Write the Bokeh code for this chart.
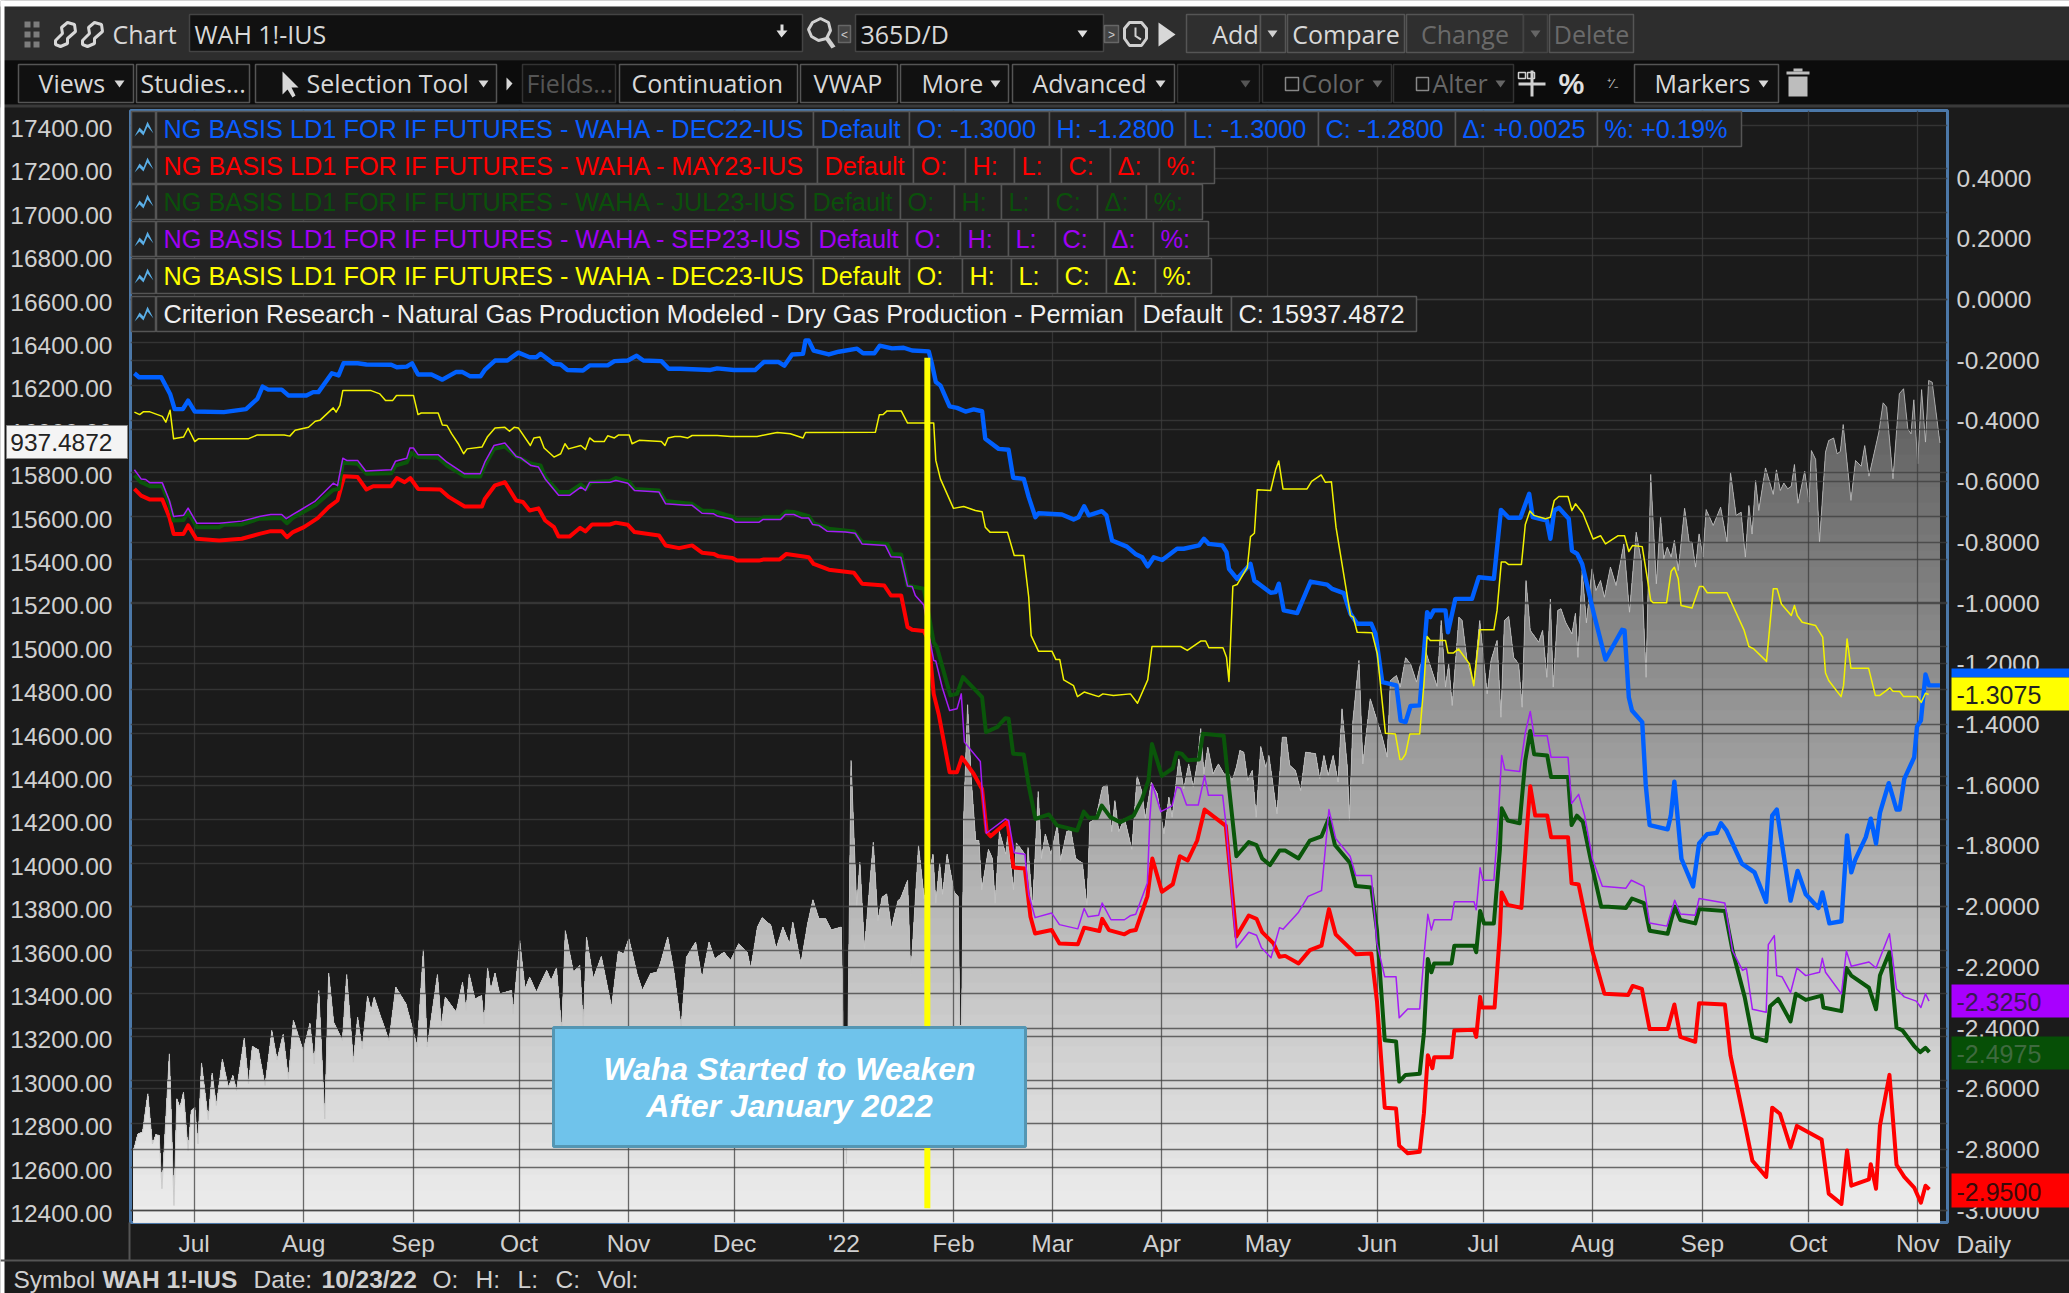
from bokeh.plotting import figure
from bokeh.models import (Range1d, LinearAxis, FixedTicker, NumeralTickFormatter, Grid, Label,
                          BoxAnnotation, PolyAnnotation, GridBox)
from bokeh.embed import file_html
from bokeh.resources import INLINE
import numpy as np

# ---- chart text ----
month_days = [0,31,62,92,123,153,184,215,243,274,304,335,365,396,427,457,488]
month_labels = ["Jul","Aug","Sep","Oct","Nov","Dec","'22","Feb","Mar","Apr","May","Jun","Jul","Aug","Sep","Oct","Nov"]
left_ticks = [12400+200*i for i in range(26)]
right_ticks = [round(0.4-0.2*i,1) for i in range(18)]

# ---- Permian dry gas production (left axis), day = days since 1 Jul 2021 ----
prod_day = [-17.2,-15.9,-14.6,-13.1,-11.8,-10.8,-9.9,-9.1,-7,-5.7,-4.9,-4,-3,-1.7,-0.8,0.2,1.1,2.1,4,5.1,6.3,8,9.7,11,12,14.2,15.4,16.5,18.2,20.1,22,23.5,25.2,26.7,28.1,30.9,32.8,34,35.3,37,38.1,39.5,42,43.2,45.1,46.3,47.6,49.1,50.1,51,52.7,55.2,57.1,60,63.2,64.9,66,68.9,70,71.1,74.2,76,77,77.9,79.5,81.4,82.1,83.1,84,85.2,86.5,89.9,90.3,92.2,93.7,95,96.9,99.8,101.1,102.6,104.1,105.1,107.4,109.2,110.2,111.1,113,115.3,118.2,120.1,121.6,123.1,125.4,126.9,129.2,131,132,134.1,135.8,137.9,139.4,142,143.8,145.8,147.4,150,151.9,154.2,156.6,157.6,159.5,160.8,163.3,164.8,166.7,168.6,169.5,171.8,173.7,175.2,176.9,178.8,180.4,183.2,184.7,186,187.6,188.5,189.8,192.3,193.6,194.8,196.1,197.4,199.3,
 200,202,202.9,205.1,206.7,209.2,210,211.1,211.9,213.2,215.2,216.3,216.8,217.3,217.9,219,220,221.3,222.2,223,224.9,226,226.8,228,229.8,230.3,232,232.8,235.2,235.8,236.1,237.4,239,239.9,241,242.6,244.4,245.3,247.1,248.2,249.6,251.5,252.8,253.6,255.3,257.2,258.5,259.8,260.7,261.8,263.4,265.5,267,268.3,269.3,271,
 272.7,274.6,276,276.9,278.8,280.2,281.6,282.9,284,285,285.9,287,288.5,290,291.6,293,293.9,295.1,296.1,297.2,298.3,299.6,300.7,302,303.4,304.3,306.6,308.1,309.2,310.2,311.8,313.3,314.7,317.5,318.7,319.9,321.1,322.5,323.9,325,326.5,327.1,328.1,329.8,330.9,333,336.4,337.8,338.7,340.4,341.5,343,344.4,346.1,347,348.6,351.9,353.1,354.3,355.2,356.2,358.1,359,360.4,362.3,364,366.1,367.2,368.9,370,371,372.2,373.6,375,376,377.1,378.3,380.7,381.8,383,384,384.8,386.1,387,388.3,390.1,391.1,391.8,393,394.2,395.8,396.9,398.2,399.3,401,402.6,404.8,406.4,408.3,409.7,411.1,
 412.4,414,415.2,416.1,417.1,418.2,419.1,420.2,422,423.3,424.1,425.1,426.1,427.2,428.1,430.1,432.2,434,435,436.6,438,439.2,440.2,441.1,442.1,443,444.9,447.1,448,449.1,450.1,451.2,452.2,453.1,454.1,456,457.2,457.9,459.1,460.2,461.9,462.8,464.2,465.2,466.1,466.9,469.1,470.4,472,473,474.2,477,478.2,479.2,481,482.8,484,485.2,486.1,486.9,488,489.1,490.2,491.1,492.1,494.3]
prod_val = [12676,12753,12761,12938,12707,12750,12746,12500,13122,12423,12915,12876,12945,12676,12861,12876,12707,13080,12818,13033,12884,13097,12968,13022,12953,13194,12984,13156,13140,12976,13229,13094,13211,13007,13276,13137,13263,13076,13414,12822,13494,13268,13183,13488,13084,13291,13145,13388,13322,13383,13299,13183,13429,13352,13153,13601,13153,13488,13252,13383,13314,13452,13322,13488,13375,13391,13260,13518,13414,13494,13398,13414,13306,13644,13421,13475,13406,13506,13460,13518,13229,13690,13498,13529,13245,13660,13468,13570,13337,13595,13583,13652,13491,13414,13491,13498,13537,13660,13506,13245,13567,13637,13468,13637,13560,13590,13552,13629,13590,13514,13706,13749,13714,13606,13706,13629,13729,13537,13721,13832,13744,13744,13693,13706,12615,14474,13798,14005,13606,14097,13736,13844,13859,13698,13829,
 13837,13921,13478,14082,13837,14042,13816,14001,13857,14042,13868,13847,13251,13251,14207,14731,14392,14105,14105,13878,14064,14022,13816,14146,14042,14125,13878,14094,14042,13837,14073,13796,14331,14022,14135,14042,14176,14013,14146,14156,14022,14001,13796,14188,14207,14351,14361,14146,14289,14146,14207,14064,14403,14331,14207,14372,
 14320,14136,14305,14212,14481,14343,14458,14351,14458,14621,14412,14535,14412,14458,14412,14412,14382,14443,14520,14512,14382,14428,14212,14538,14443,14497,14228,14581,14581,14451,14428,14335,14512,14505,14389,14497,14405,14497,14374,14712,14443,14197,14658,14935,14458,14758,14581,14489,14842,14865,14812,14947,14919,14835,14903,14981,14815,15119,14812,14919,14727,15134,15119,14935,14826,15119,14781,14935,15027,14673,15119,15137,14949,14919,14719,15303,15073,15019,15073,14857,15218,14812,15165,15173,15111,15057,15152,14949,15349,15108,15357,15257,15303,15226,15365,15280,15472,15157,15526,15396,14857,
 15792,15288,15595,15403,15457,15411,15488,15349,15636,15480,15480,15365,15518,15411,15630,15557,15641,15480,15800,15603,15618,15411,15649,15517,15764,15626,15822,15700,15813,15718,15752,15726,15737,15838,15659,15807,15664,15902,15861,15480,15895,15948,15960,15887,15898,16022,15672,15856,15830,15925,15784,15987,16122,16102,15772,16164,16187,16002,15979,16136,15841,16183,15941,16225,16217,15937]

# ---- DEC22 (right axis) ----
dec22_day = [-16.9,-15.6,-9.3,-6.8,-5.5,-3.2,-1.7,0.2,8.4,14.7,17.9,19.4,21,24.8,26.7,31.8,33.7,35.2,39,40.9,42.3,46.3,48.8,55.8,57.4,60.2,61.7,63.4,67.2,70.3,74.1,76,78.2,81.1,82.3,85.2,88.7,91.8,95,96.9,98.1,101.9,103.8,105.7,110.1,112,117.1,119,122.8,125.3,127.2,132.3,134.4,
 137.7,146.2,148.1,152.8,158.9,161.3,165.5,167.1,169.3,172.4,173.1,174,175.4,179.7,182.5,187.7,189.4,192.6,194.1,197.6,200.9,203.3,208,208.9,210,211.3,213.9,216,218.4,220.7,223.1,224,227.8,230.6,231.9,234.9,236.3,238.2,239.1,245.7,249,250.4,252,253.3,257,258.3,259.9,264.1,266.5,268.4,270,
 271.7,274.1,278.3,280.2,284.5,285.9,287.3,291.1,292.3,293,295.3,299.1,300.2,304.8,306.2,307.1,308.5,312.3,316.1,320.8,322.2,325.5,327.4,329.3,333.3,334.5,336.4,340.4,341.6,343,344.4,347,349.1,350,351,354.3,355,357.1,361.8,363.7,368,370,372.2,375.5,378,379,383,384,385.1,386.4,389.2,390.1,391.6,393,396.3,399.6,404.3,405,406.2,407.1,410,
 411,412.1,417.2,418.1,419.1,421.1,424.4,426.1,428.4,431.1,432.3,433.9,438.2,441.8,445.1,446.8,448.1,452,454,456.3,459.9,461,463,466.4,468,469.2,470.3,473.3,474.7,476.2,477.3,479.8,482,482.9,484.2,487,487.8,488.9,490.2,491.2,494.3]
dec22_val = [-0.243,-0.256,-0.256,-0.311,-0.361,-0.361,-0.333,-0.369,-0.371,-0.361,-0.327,-0.287,-0.297,-0.297,-0.316,-0.316,-0.305,-0.305,-0.243,-0.250,-0.210,-0.210,-0.214,-0.215,-0.223,-0.221,-0.210,-0.247,-0.247,-0.264,-0.239,-0.239,-0.253,-0.253,-0.232,-0.201,-0.201,-0.175,-0.190,-0.190,-0.179,-0.212,-0.214,-0.232,-0.234,-0.217,-0.217,-0.203,-0.201,-0.185,-0.201,-0.203,-0.228,
 -0.228,-0.232,-0.227,-0.232,-0.232,-0.206,-0.206,-0.218,-0.181,-0.179,-0.135,-0.135,-0.168,-0.181,-0.172,-0.162,-0.177,-0.177,-0.152,-0.161,-0.159,-0.168,-0.171,-0.212,-0.272,-0.283,-0.352,-0.357,-0.369,-0.362,-0.368,-0.459,-0.492,-0.495,-0.587,-0.591,-0.651,-0.717,-0.704,-0.708,-0.725,-0.717,-0.681,-0.711,-0.697,-0.711,-0.794,-0.814,-0.838,-0.849,-0.879,
 -0.849,-0.858,-0.821,-0.821,-0.810,-0.788,-0.805,-0.810,-0.832,-0.887,-0.920,-0.871,-0.926,-0.966,-0.964,-0.936,-1.024,-1.033,-0.929,-0.939,-0.953,-0.967,-1.035,-1.068,-1.068,-1.101,-1.260,-1.271,-1.387,-1.392,-1.339,-1.337,-1.030,-1.046,-1.024,-1.024,-1.096,-0.986,-0.986,-0.915,-0.920,-0.693,-0.719,-0.719,-0.640,-0.717,-0.728,-0.788,-0.695,-0.686,-0.722,-0.827,-0.838,-0.871,-1.035,-1.186,-1.088,-1.090,-1.310,-1.354,-1.392,
 -1.599,-1.731,-1.745,-1.700,-1.588,-1.842,-1.933,-1.792,-1.761,-1.757,-1.725,-1.750,-1.858,-1.887,-1.984,-1.700,-1.680,-1.980,-1.882,-1.959,-2.004,-1.953,-2.055,-2.048,-1.765,-1.887,-1.846,-1.771,-1.710,-1.792,-1.691,-1.593,-1.680,-1.680,-1.579,-1.508,-1.407,-1.387,-1.235,-1.271,-1.271]

# ---- MAY23 ----
may23_day = [-16.9,-15,-12.5,-9,-7,-5.8,-3,-1.7,0.6,7.1,13.5,18.5,21.7,24.8,26.3,28,31.1,35,38.1,40.6,42.5,46.3,48.8,50.7,55.8,57.4,59.6,61.2,63.4,69.7,72.2,76.6,81.5,82.3,85.2,88,91.2,93.1,95,97.5,99.4,101.9,103.2,106.3,109.3,110.8,112.7,117.7,119.4,122.8,124.7,131.6,133.5,137.3,
 141,143.8,147.1,148.5,152.3,153.7,159.9,161.3,165.8,167.7,174,175.4,179.7,186.8,189.1,195.4,197.3,200.2,202,203.3,206.6,208,209.4,210.8,213.9,216,217.4,220.7,223.1,
 224.4,225.5,230.3,232,235.2,236.8,238.1,242.8,245,250.2,252,256.3,257.1,259,263.4,265,266.6,269.9,271.3,274,277.1,279.1,281.3,284,286.1,292.1,295.1,298.6,300.8,302.4,305.6,307.3,308.9,312.7,315.9,319.2,321.3,323.2,329,333.3,334.9,337.1,340.3,341.2,343.6,347,348.2,349.3,350.6,351.1,356,
 356.8,362.4,363,364.1,364.6,368.2,369.7,370.2,371.9,375.8,377.5,378.3,379.7,383.1,384.2,389,390,392,395.9,399.3,406,407.3,409.9,412.1,417.2,419.1,420.8,425,426.1,433.4,435,439,441.2,445.1,446.8,449,452,453.8,460.8,462.8,466.4,468,469.2,474.2,474.7,476.2,477.3,480,482,484.2,487,488.9,490.2,491.3]
may23_val = [-0.624,-0.646,-0.659,-0.659,-0.717,-0.772,-0.772,-0.744,-0.788,-0.794,-0.788,-0.772,-0.763,-0.763,-0.783,-0.766,-0.750,-0.720,-0.684,-0.662,-0.582,-0.585,-0.626,-0.615,-0.615,-0.588,-0.602,-0.588,-0.624,-0.626,-0.651,-0.682,-0.682,-0.657,-0.612,-0.602,-0.662,-0.667,-0.695,-0.688,-0.728,-0.750,-0.781,-0.781,-0.752,-0.764,-0.741,-0.741,-0.735,-0.742,-0.766,-0.777,-0.810,-0.819,
 -0.810,-0.834,-0.838,-0.846,-0.851,-0.860,-0.860,-0.856,-0.856,-0.838,-0.849,-0.871,-0.890,-0.900,-0.936,-0.942,-0.975,-0.975,-1.079,-1.088,-1.092,-1.123,-1.299,-1.365,-1.557,-1.557,-1.508,-1.562,-1.612,
 -1.753,-1.768,-1.719,-1.871,-1.874,-2.033,-2.088,-2.077,-2.121,-2.124,-2.069,-2.080,-2.040,-2.077,-2.091,-2.080,-2.077,-1.966,-1.841,-1.951,-1.926,-1.834,-1.848,-1.782,-1.680,-1.734,-2.098,-2.029,-2.040,-2.084,-2.121,-2.165,-2.162,-2.187,-2.143,-2.128,-2.008,-2.091,-2.157,-2.154,-2.312,-2.662,-2.665,-2.787,-2.812,-2.807,-2.680,-2.489,-2.532,-2.496,-2.496,
 -2.408,-2.405,-2.429,-2.297,-2.332,-2.332,-2.085,-1.953,-1.994,-2.004,-1.721,-1.603,-1.700,-1.700,-1.771,-1.771,-1.923,-1.927,-2.146,-2.287,-2.291,-2.261,-2.271,-2.403,-2.403,-2.322,-2.429,-2.445,-2.318,-2.322,-2.490,-2.712,-2.837,-2.890,-2.662,-2.682,-2.793,-2.722,-2.767,-2.945,-2.979,-2.803,-2.919,-2.898,-2.848,-2.929,-2.722,-2.554,-2.850,-2.890,-2.925,-2.975,-2.919,-2.931]

# ---- JUL23 ----
jul23_day = [-16.9,-15,-12.5,-9,-7,-5.8,-3,-1.7,0.8,7.1,8.4,13.5,18.5,24.8,26.3,28,34.3,39.4,40.9,42.1,46.3,48.8,55.8,57,60.2,61.5,63.4,69.1,71.6,76.6,81,82.3,84.9,88,91.2,95.6,98.1,99.4,103.2,106.3,109.5,111,112.3,117.7,119.4,123.2,124.7,131.6,133.5,139.2,
 141,143.8,147.1,152.3,153.7,159.9,161.3,166,167.7,169.8,174,175.4,179.7,186.8,189.1,196.2,197.6,200.2,202,206.6,208.3,209.4,210.3,214.1,216,217.7,223.1,224.2,227.3,229.7,230.6,231.9,234.9,236.3,238.2,242,244.3,250,251.9,253.3,255.6,257,259.4,262.2,266,268.4,270.2,271.2,
 274,277.1,278.2,279.6,281.3,284.5,285.6,291.5,292.6,295.1,298.6,300.8,302.4,304.6,307.3,308.9,312.7,315.9,319.2,321.3,323,327.3,328.9,333.3,334.9,337.1,340.3,341.2,343,347,348.2,349.3,350.3,351.1,356,
 356.8,362.4,363,364.1,365.2,368,369.7,370.2,371.9,375.3,376.9,378.3,379.4,383.1,384.2,389,390,391.5,393.2,395.9,398.4,400.4,405.4,407.1,410.5,412.1,417.2,419.2,420.8,425,426.1,433.4,435.6,439,441.2,445.1,446.2,448.5,452,453.5,456.3,460.8,461.3,466.4,467.8,469.2,474.2,476.2,477.3,480,482,483.7,487,488.7,490.2,491.3]
jul23_val = [-0.579,-0.602,-0.615,-0.615,-0.673,-0.728,-0.726,-0.700,-0.750,-0.750,-0.742,-0.741,-0.722,-0.720,-0.737,-0.719,-0.678,-0.627,-0.624,-0.538,-0.541,-0.574,-0.572,-0.547,-0.536,-0.506,-0.519,-0.521,-0.547,-0.582,-0.583,-0.547,-0.492,-0.484,-0.517,-0.541,-0.547,-0.585,-0.634,-0.634,-0.609,-0.624,-0.602,-0.598,-0.588,-0.601,-0.624,-0.629,-0.664,-0.671,
 -0.673,-0.695,-0.697,-0.715,-0.725,-0.725,-0.717,-0.717,-0.698,-0.700,-0.714,-0.737,-0.755,-0.764,-0.799,-0.805,-0.838,-0.840,-0.942,-0.953,-1.057,-1.129,-1.145,-1.304,-1.299,-1.244,-1.310,-1.425,-1.409,-1.379,-1.381,-1.496,-1.499,-1.601,-1.711,-1.696,-1.732,-1.749,-1.687,-1.707,-1.707,-1.667,-1.705,-1.722,-1.700,-1.645,-1.584,-1.464,
 -1.569,-1.544,-1.493,-1.496,-1.518,-1.515,-1.430,-1.437,-1.562,-1.834,-1.787,-1.797,-1.841,-1.863,-1.815,-1.815,-1.841,-1.782,-1.768,-1.709,-1.797,-1.856,-1.932,-1.937,-2.077,-2.440,-2.444,-2.576,-2.554,-2.550,-2.415,-2.172,-2.216,-2.187,-2.187,
 -2.129,-2.129,-2.150,-2.014,-2.055,-2.055,-1.812,-1.676,-1.716,-1.725,-1.518,-1.421,-1.498,-1.502,-1.573,-1.573,-1.731,-1.700,-1.721,-1.872,-2.000,-2.000,-2.004,-1.973,-1.988,-2.079,-2.089,-2.000,-2.044,-2.055,-2.008,-2.014,-2.146,-2.297,-2.429,-2.443,-2.328,-2.304,-2.378,-2.287,-2.307,-2.293,-2.332,-2.344,-2.202,-2.227,-2.267,-2.338,-2.227,-2.150,-2.398,-2.408,-2.459,-2.479,-2.465,-2.479]

# ---- SEP23 ----
sep23_day = [-16.9,-15,-13.7,-12.5,-9,-7,-5.8,-3,-1.7,0.8,7.1,13.5,18.5,21.7,24.8,26.1,28,29.9,34.3,39.4,40.6,42.1,43.2,46.3,48.6,55.8,57,60.2,61.1,62.1,63.4,69.1,71.6,76.6,81,82.3,84.9,88,91.2,92.4,95.4,97.5,99.4,103.2,106.3,109.5,110.8,112,117.7,119.4,122.8,124.7,131.6,133.5,139.2,
 141,143.8,147.1,148.1,152.3,153.3,159.9,161,166,167.4,169.8,172.1,174,175.1,176.9,179.2,184.4,187.2,189.1,195.7,197.3,200.1,202,203.3,204.2,206.6,208,209.4,210,211.8,213.9,216,217.2,218.1,222.6,223.1,224.3,229.7,230.6,
 232.2,235.2,236.3,238.1,242.8,245,250.2,252,253.1,256.1,257.1,259.6,263.4,265,266.6,269.9,270.6,271.3,273.7,276.9,278.2,279.3,281,284.3,286.1,287.2,291.2,292.1,295.1,298.6,300.8,302.2,304.9,307.3,308.3,312.7,315.4,319.2,321.3,323.2,327.3,328.9,333.3,334.9,337.1,340.3,341.2,343.6,347,348.2,349.3,350.3,351.1,356,
 356.8,362.4,363,364.1,364.9,368,369.3,370.2,371.1,375.3,376.9,378.3,379.4,383.1,384.2,389,390,392,393.7,395.9,398.7,405.4,406.9,410.5,412.1,417,419.2,420.8,425,426.1,433.4,435.6,438.4,439.5,441.2,445.1,445.7,447.4,448.1,449.6,452,453.8,456.3,460.2,461,461.9,466.4,467.8,469.2,474.2,476.2,480,482,484.2,487.6,488.9,490.2,491.2]
sep23_val = [-0.561,-0.591,-0.593,-0.604,-0.604,-0.662,-0.715,-0.711,-0.687,-0.737,-0.737,-0.730,-0.715,-0.708,-0.708,-0.722,-0.708,-0.695,-0.664,-0.605,-0.613,-0.523,-0.530,-0.530,-0.565,-0.561,-0.533,-0.523,-0.489,-0.489,-0.511,-0.511,-0.536,-0.574,-0.574,-0.536,-0.481,-0.473,-0.517,-0.521,-0.547,-0.552,-0.591,-0.645,-0.645,-0.618,-0.629,-0.602,-0.602,-0.596,-0.605,-0.629,-0.634,-0.673,-0.678,
 -0.678,-0.704,-0.706,-0.713,-0.724,-0.734,-0.734,-0.725,-0.725,-0.708,-0.708,-0.720,-0.720,-0.741,-0.744,-0.763,-0.766,-0.770,-0.805,-0.810,-0.847,-0.849,-0.944,-0.945,-0.975,-1.006,-1.101,-1.189,-1.191,-1.277,-1.354,-1.348,-1.299,-1.458,-1.522,-1.612,-1.758,-1.711,-1.716,
 -1.822,-1.827,-1.959,-2.036,-2.021,-2.059,-2.073,-2.006,-2.033,-2.028,-1.988,-2.043,-2.043,-2.030,-2.025,-1.922,-1.709,-1.596,-1.687,-1.668,-1.606,-1.610,-1.665,-1.665,-1.569,-1.633,-1.633,-1.724,-2.135,-2.084,-2.094,-2.135,-2.168,-2.069,-2.074,-2.018,-1.966,-1.947,-1.680,-1.775,-1.834,-1.897,-1.897,-2.121,-2.231,-2.231,-2.366,-2.337,-2.337,-2.165,-2.025,-2.077,-2.043,-2.043,
 -1.984,-1.984,-2.010,-1.872,-1.913,-1.913,-1.700,-1.502,-1.549,-1.555,-1.427,-1.357,-1.437,-1.437,-1.508,-1.508,-1.660,-1.630,-1.700,-1.842,-1.933,-1.939,-1.913,-1.933,-2.054,-2.064,-1.979,-2.024,-2.028,-1.973,-1.988,-2.146,-2.210,-2.202,-2.338,-2.348,-2.125,-2.095,-2.227,-2.231,-2.283,-2.202,-2.227,-2.216,-2.170,-2.216,-2.287,-2.146,-2.196,-2.182,-2.202,-2.089,-2.271,-2.297,-2.311,-2.332,-2.287,-2.311]

# ---- DEC23 ----
dec23_day = [-16.9,-15.4,-14.4,-12.5,-9,-8,-6.8,-5.8,-3,-1.7,0.2,1.2,15.3,17.9,25.5,27.1,28.6,32.4,34.3,35.6,39.4,40.2,41.3,42.1,50.1,52.6,54.2,56.2,57.3,62.1,63.4,64.3,69.1,70.3,71.6,72.9,74.8,76.3,77.3,81.5,83,85.2,88,89.3,90.6,91.8,95.2,96.2,97.9,99.1,101.9,103.8,105,106,109.5,110.8,112,113.3,116.1,117.1,119,120.2,123.2,124,126,132.3,133.3,134.2,136.1,
 137.7,139.8,141,148.1,151.9,159.4,163.2,165.1,168.8,172.4,173.1,192.9,194,195.1,196.2,200.2,202,209.4,210,211.3,215,217.9,221.2,223.1,224,225.4,230.3,232.2,234.9,236.3,237,239.1,242.9,244,245.1,246.2,249,250.1,252,256.1,257.3,260.3,265.1,267.1,270,271.2,
 279.3,281.2,285,286.4,287.3,291.3,292.3,293,294.1,295.3,298.2,299.1,300.2,301,304.8,306.2,307.1,308.3,315.1,316.4,319.1,320.3,322,323.3,327.4,328.2,329.3,333.5,335,337.3,340.1,341.4,342,343,344.2,347,348.2,349.1,350,354.3,355,356.6,358,361.1,362.3,364,368,368.9,370.1,371.3,372.2,375.8,376.9,378.2,379.3,382.6,384,385.1,386.4,389,390.1,391.1,393.2,396.1,398.2,399.6,403.2,405,406.2,407.3,410,
 411.4,412.4,413.1,416.9,418.2,419.1,420.2,421,424.1,426.2,427.2,428.4,434,438.8,440.2,441.6,445.2,447.1,448.2,449.4,452.2,453.1,453.9,455.3,459.1,461.1,461.9,462.8,466.3,467,468,469.1,474.1,476,477.3,480.1,481,482.9,484,487.8,489,490.2,491.1]
dec23_val = [-0.371,-0.379,-0.370,-0.370,-0.385,-0.404,-0.365,-0.459,-0.453,-0.424,-0.468,-0.459,-0.459,-0.446,-0.446,-0.450,-0.431,-0.421,-0.401,-0.398,-0.357,-0.371,-0.349,-0.300,-0.300,-0.311,-0.333,-0.333,-0.316,-0.316,-0.379,-0.374,-0.374,-0.413,-0.415,-0.442,-0.475,-0.508,-0.492,-0.486,-0.453,-0.423,-0.421,-0.434,-0.421,-0.423,-0.481,-0.456,-0.453,-0.489,-0.519,-0.508,-0.475,-0.492,-0.481,-0.494,-0.456,-0.468,-0.468,-0.449,-0.456,-0.446,-0.446,-0.475,-0.464,-0.468,-0.481,-0.456,-0.451,
 -0.451,-0.456,-0.448,-0.448,-0.451,-0.451,-0.442,-0.438,-0.442,-0.456,-0.438,-0.437,-0.380,-0.379,-0.367,-0.367,-0.407,-0.407,-0.530,-0.591,-0.688,-0.682,-0.695,-0.699,-0.750,-0.767,-0.767,-0.843,-0.843,-0.980,-1.107,-1.159,-1.159,-1.186,-1.186,-1.253,-1.272,-1.308,-1.293,-1.308,-1.299,-1.304,-1.299,-1.330,-1.253,-1.143,
 -1.143,-1.156,-1.125,-1.125,-1.147,-1.147,-1.178,-1.258,-0.944,-0.939,-0.882,-0.781,-0.770,-0.627,-0.629,-0.561,-0.532,-0.624,-0.624,-0.599,-0.578,-0.602,-0.600,-0.750,-1.041,-1.046,-1.096,-1.098,-1.167,-1.429,-1.431,-1.515,-1.515,-1.497,-1.431,-1.431,-1.266,-1.110,-1.123,-1.123,-1.164,-1.164,-1.151,-1.200,-1.272,-1.088,-1.088,-1.024,-0.865,-0.865,-0.873,-0.873,-0.741,-0.697,-0.711,-0.722,-0.717,-0.662,-0.649,-0.649,-0.695,-0.673,-0.704,-0.789,-0.778,-0.805,-0.778,-0.778,-0.830,-0.810,-0.814,
 -0.915,-0.991,-0.999,-0.999,-0.895,-0.882,-0.920,-1.008,-1.016,-0.945,-0.945,-0.966,-0.966,-1.088,-1.143,-1.151,-1.192,-0.953,-0.953,-1.003,-1.041,-1.008,-1.041,-1.063,-1.074,-1.112,-1.230,-1.255,-1.308,-1.272,-1.118,-1.215,-1.215,-1.304,-1.304,-1.279,-1.290,-1.291,-1.308,-1.308,-1.327,-1.297,-1.301]

# Vertical marker and callout
marker_day = [207.6, 207.6]
marker_val = [12410, 16330]
callout_lines = ["Waha Started to Weaken", "After January 2022"]

# Legend table texts: (text, cell start, cell end)
ng = "NG BASIS LD1 FOR IF FUTURES - WAHA - "
legend_rows = [
 ("#0a5cff", [(ng+"DEC22-IUS",156,813),("Default",813,909),("O: -1.3000",909,1049),("H: -1.2800",1049,1185),("L: -1.3000",1185,1318),("C: -1.2800",1318,1455),("Δ: +0.0025",1455,1597),("%: +0.19%",1597,1741)]),
 ("#ff0000", [(ng+"MAY23-IUS",156,817),("Default",817,913),("O:",913,965),("H:",965,1014),("L:",1014,1061),("C:",1061,1110),("Δ:",1110,1159),("%:",1159,1214)]),
 ("#0b500b", [(ng+"JUL23-IUS",156,805),("Default",805,900),("O:",900,954),("H:",954,1001),("L:",1001,1048),("C:",1048,1097),("Δ:",1097,1146),("%:",1146,1202)]),
 ("#a000f5", [(ng+"SEP23-IUS",156,811),("Default",811,907),("O:",907,960),("H:",960,1008),("L:",1008,1055),("C:",1055,1104),("Δ:",1104,1153),("%:",1153,1208)]),
 ("#ffff00", [(ng+"DEC23-IUS",156,813),("Default",813,909),("O:",909,962),("H:",962,1011),("L:",1011,1057),("C:",1057,1106),("Δ:",1106,1155),("%:",1155,1211)]),
 ("#f0f0f0", [("Criterion Research - Natural Gas Production Modeled - Dry Gas Production - Permian",156,1135),("Default",1135,1231),("C: 15937.4872",1231,1416)]),
]
legend_y = [(111,146),(147,183),(184,219),(221,256),(258,293),(296,331)]

# ---------- figure geometry (page pixels) ----------
OX, OY = 0, 0
FL, FR, FT, FB = 130, 1947, 110, 1222
W, H = 2069, 1293
DAY0, PXDAY = 193.6, 3.532
x_rng = Range1d((FL-DAY0)/PXDAY, (FR-DAY0)/PXDAY)
y_rng = Range1d(12400+(1210-FB)/0.217, 12400+(1210-FT)/0.217)
r_rng = Range1d((299-FB)/303.6, (299-FT)/303.6)
# the left axis labels sit about 3 px under their grid lines in the reference
LABEL_DROP = 14
lab_rng = Range1d(y_rng.start + LABEL_DROP, y_rng.end + LABEL_DROP)

BG = "#1b1b1b"
SANS = "Liberation Sans"
OPEN = "Open Sans"
p = figure(width=W, height=H, frame_width=FR-FL, frame_height=FB-FT, x_range=x_rng, y_range=y_rng,
           output_backend="svg", toolbar_location=None, background_fill_color=BG, border_fill_color=BG,
           min_border_left=FL-OX, min_border_right=OX+W-FR, min_border_top=FT-OY, min_border_bottom=OY+H-FB,
           outline_line_color="#4c78a8", outline_line_width=3, frame_align=False, y_axis_location=None)
p.extra_y_ranges = {"right": r_rng, "labels": lab_rng}
p.grid.visible = False

# axes
xa = p.xaxis[0]
xa.ticker = FixedTicker(ticks=month_days)
xa.major_label_overrides = {d: l for d, l in zip(month_days, month_labels)}
ya = LinearAxis(y_range_name="labels", ticker=FixedTicker(ticks=left_ticks), formatter=NumeralTickFormatter(format="0.00"))
p.add_layout(ya, "left")
ra = LinearAxis(y_range_name="right", ticker=FixedTicker(ticks=right_ticks), formatter=NumeralTickFormatter(format="0.0000"))
p.add_layout(ra, "right")
for a in (xa, ya, ra):
    a.axis_line_color = None
    a.major_tick_line_color = None
    a.minor_tick_line_color = None
    a.major_label_text_color = "#d0d0d0"
    a.major_label_text_font = SANS
    a.major_label_text_font_size = "24.5px"
ya.major_label_standoff = 12
ra.major_label_standoff = 3
xa.major_label_standoff = 1

# gradient-filled production area
floor = y_rng.start
fine = np.union1d(np.arange(prod_day[0], prod_day[-1], 0.5), prod_day)
fine_val = np.interp(fine, prod_day, prod_val)
edges = np.linspace(16400, 12345, 56)
for top in edges:
    g = int(round(np.interp(top, [12345, 16300], [240, 90])))
    p.varea(x=fine, y1=np.full(fine.shape, floor), y2=np.minimum(fine_val, top),
            fill_color=f"#{g:02x}{g:02x}{g:02x}", level="image")
p.line(prod_day, prod_val, line_color="#c4c4c4", line_width=1, line_alpha=0.75, level="image")

# grids
for g in (Grid(dimension=0, ticker=FixedTicker(ticks=month_days)),
          Grid(dimension=1, ticker=FixedTicker(ticks=left_ticks)),
          Grid(dimension=1, ticker=FixedTicker(ticks=right_ticks), y_range_name="right")):
    g.grid_line_color = "#3d3d3d"
    g.grid_line_alpha = 0.75
    g.grid_line_width = 1.3
    g.level = "underlay"
    p.add_layout(g)

# series
p.line(dec22_day, dec22_val, y_range_name="right", line_color="#0060ff", line_width=4.4, line_join="round")
p.line(may23_day, may23_val, y_range_name="right", line_color="#ff0000", line_width=4, line_join="round")
p.line(jul23_day, jul23_val, y_range_name="right", line_color="#0a560a", line_width=4, line_join="round")
p.line(sep23_day, sep23_val, y_range_name="right", line_color="#a41cf5", line_width=1.5, line_join="round")
p.line(dec23_day, dec23_val, y_range_name="right", line_color="#f2f200", line_width=1.5, line_join="round")
p.line(marker_day, marker_val, line_color="#ffff00", line_width=6)

# ---------- overlay figure for window chrome and tags, in page pixels ----------
ov = figure(width=W, height=H, frame_width=W, frame_height=H, x_range=Range1d(0, W), y_range=Range1d(0, H),
            x_axis_location=None, y_axis_location=None,
            output_backend="svg", toolbar_location=None, min_border=0, outline_line_color=None,
            background_fill_color=None, border_fill_color=None, frame_align=False)
ov.grid.visible = False

def sx(x): return x - OX
def sy(y): return OY + H - y

def box(x0, y0, x1, y1, fill=None, line=None, lw=1.5):
    ov.add_layout(BoxAnnotation(left=sx(x0), right=sx(x1), top=sy(y0), bottom=sy(y1),
                 left_units="screen", right_units="screen", top_units="screen", bottom_units="screen",
                 fill_color=fill, fill_alpha=1 if fill else 0, line_color=line, line_alpha=1 if line else 0,
                 line_width=lw, level="annotation"))

def poly(pts, fill="#cccccc", line=None, lw=1):
    ov.add_layout(PolyAnnotation(xs=[sx(a) for a, _ in pts], ys=[sy(b) for _, b in pts],
                 xs_units="screen", ys_units="screen", fill_color=fill, fill_alpha=1 if fill else 0,
                 line_color=line, line_alpha=1 if line else 0, line_width=lw, level="annotation"))

def txt(x, y, s, color="#d8d8d8", size=25, font=OPEN, align="left", style="normal"):
    ov.add_layout(Label(x=sx(x), y=sy(y), x_units="screen", y_units="screen", text=s, text_color=color,
                 text_font=font, text_font_size=f"{size}px", text_align=align, text_baseline="middle",
                 text_font_style=style, level="annotation"))

def caret(x, y, c="#d0d0d0", s=5):
    poly([(x-s, y-3), (x+s, y-3), (x, y+4)], fill=c)

# tool bars
box(0, 6, 2069, 60, fill="#2d2d2d")
box(0, 60, 2069, 104, fill="#0c0c0c")
box(0, 104, 2069, 107, fill="#3a3a3a")
box(0, 0, 2069, 6, fill="#ffffff")
box(0, 0, 4, 1293, fill="#ffffff")
for gx in (24, 33):
    for gy in (21, 31, 41):
        box(gx, gy, gx+6, gy+6, fill="#7d7d7d")
for ox in (52, 79):
    poly([(ox+3, 40), (ox+10, 33), (ox+9, 27), (ox+15, 22), (ox+22, 24), (ox+23, 31), (ox+15, 38), (ox+15, 43), (ox+8, 46), (ox+3, 44)],
         fill=None, line="#d8d8d8", lw=3)
txt(112, 33, "Chart")
box(189, 14, 802, 51, fill="#111111", line="#444444")
txt(194, 33, "WAH 1!-IUS")
poly([(776, 30), (780, 30), (780, 24), (783, 24), (783, 30), (787, 30), (781, 37)], fill="#e0e0e0")
poly([(812, 22), (820, 18), (828, 22), (830, 30), (826, 38), (818, 40), (811, 36), (808, 29)], fill=None, line="#d0d0d0", lw=3)
poly([(824, 38), (828, 36), (835, 46), (831, 48)], fill="#d0d0d0")
box(838, 25, 850, 42, fill="#444444", line="#666666")
txt(844, 34, "<", size=12, font=SANS, align="center", color="#cccccc")
box(855, 14, 1103, 51, fill="#111111", line="#444444")
txt(860, 33, "365D/D")
caret(1082, 33, "#e0e0e0")
box(1104, 25, 1118, 42, fill="#444444", line="#666666")
txt(1111, 34, ">", size=12, font=SANS, align="center", color="#cccccc")
poly([(1129, 22), (1141, 22), (1146, 28), (1146, 38), (1141, 45), (1129, 45), (1124, 38), (1124, 28)], fill=None, line="#d0d0d0", lw=3)
poly([(1134, 27), (1136, 27), (1136, 35), (1141, 38), (1140, 40), (1134, 36)], fill="#d0d0d0")
poly([(1158, 22), (1175, 34), (1158, 46)], fill="#d8d8d8")
for a, b, s, c in [(1186, 1260, "Add", "#d8d8d8"), (1287, 1404, "Compare", "#d8d8d8"), (1406, 1523, "Change", "#6a6a6a"), (1549, 1633, "Delete", "#6a6a6a")]:
    box(a, 14, b, 52, fill="#2f2f2f", line="#555555")
    txt((a+b)/2 + (12 if s == "Add" else 0), 33, s, color=c, align="center")
box(1260, 14, 1285, 52, fill="#2f2f2f", line="#555555")
caret(1272, 33)
box(1523, 14, 1547, 52, fill="#2f2f2f", line="#444444")
caret(1535, 33, "#666666")

buttons = [(18,133,"Views",38,"#d8d8d8",119),(136,249,"Studies...",140,"#d8d8d8",None),(255,496,"Selection Tool",306,"#d8d8d8",483),
           (522,615,"Fields...",526,"#555555",None),(619,797,"Continuation",631,"#d8d8d8",None),(800,897,"VWAP",813,"#d8d8d8",None),
           (900,1008,"More",921,"#d8d8d8",995),(1012,1174,"Advanced",1032,"#d8d8d8",1160),(1177,1259,"",0,"#555555",1245),
           (1262,1391,"Color",1301,"#666666",1377),(1393,1513,"Alter",1432,"#666666",1500),(1634,1778,"Markers",1654,"#d8d8d8",1763)]
for a, b, s, tx, c, cx in buttons:
    box(a, 64, b, 102, fill="#111111", line="#555555" if c == "#d8d8d8" else "#333333")
    if s:
        txt(tx, 82, s, color=c)
    if cx:
        caret(cx, 83, c)
box(1285, 77, 1298, 90, fill=None, line="#888888")
box(1416, 77, 1428, 90, fill=None, line="#888888")
poly([(282, 71), (282, 94), (287, 89), (292, 97), (295, 95), (291, 87), (298, 87)], fill="#d8d8d8")
poly([(506, 77), (512, 83), (506, 90)], fill="#d8d8d8")
box(1518, 72, 1525, 78, fill=None, line="#d0d0d0")
box(1527, 72, 1534, 78, fill=None, line="#d0d0d0")
box(1518, 82, 1545, 85, fill="#d0d0d0")
box(1530, 70, 1533, 96, fill="#d0d0d0")
txt(1571, 83, "%", color="#e0e0e0", size=29, font=SANS, align="center", style="bold")
txt(1612, 83, "⁺⁄₋", color="#d0d0d0", size=13, font=SANS, align="center")
box(1788, 76, 1807, 96, fill="#bdbdbd")
box(1786, 71, 1809, 74, fill="#bdbdbd")
box(1793, 68, 1802, 71, fill="#bdbdbd")

# legend table
for (y0, y1), (col, cells) in zip(legend_y, legend_rows):
    box(131, y0, 155, y1, fill="#222222", line="#555555")
    m = y0 + 17
    poly([(134, m+8), (139, m-1), (143, m+3), (147, m-7), (153, m+5), (147, m-2), (143, m+7), (139, m+3)], fill="#5aaee6")
    for s, a, b in cells:
        box(a, y0, b, y1, fill="#222222", line="#555555")
        txt(a+7, (y0+y1)/2, s, color=col, size=25.3, font=SANS)

# white crosshair value tag on the left axis
box(6, 425, 127, 458, fill="#f4f4f4", line="#888888", lw=1)
txt(112, 442, "937.4872", color="#222222", size=24.5, font=SANS, align="right")

# value tags on the right axis
box(1951, 668, 2069, 677, fill="#0060ff")
for y0, y1, fill, tcol, s in [(677, 710, "#ffff00", "#222222", "-1.3075"), (984, 1017, "#a800ff", "#3a1a55", "-2.3250"),
                              (1036, 1069, "#064f06", "#3f6a3f", "-2.4975"), (1173, 1207, "#ff0000", "#3a0a0a", "-2.9500")]:
    box(1951, y0, 2069, y1, fill=fill)
    txt(1956, (y0+y1)/2 + 1, s, color=tcol, size=25, font=SANS)

# callout
box(553, 1027, 1025, 1146, fill="#6fc3eb", line="#5496b3", lw=3)
txt(789, 1068, callout_lines[0], color="#ffffff", size=32, font=SANS, align="center", style="bold italic")
txt(789, 1105, callout_lines[1], color="#ffffff", size=32, font=SANS, align="center", style="bold italic")

# bottom bar
box(128, 1222, 130, 1260, fill="#555555")
box(0, 1259, 2069, 1261, fill="#555555")
txt(1956, 1244, "Daily", color="#d0d0d0", size=24.5, font=SANS)
for x, s, st in [(13, "Symbol", "normal"), (102, "WAH 1!-IUS", "bold"), (253, "Date:", "normal"), (321, "10/23/22", "bold"),
                 (432, "O:", "normal"), (475, "H:", "normal"), (517, "L:", "normal"), (555, "C:", "normal"), (597, "Vol:", "normal")]:
    txt(x, 1279, s, color="#d0d0d0", size=24.5, font=SANS, style=st)

layout = GridBox(children=[(p, 0, 0), (ov, 0, 0)])
open("out.html", "w").write(file_html(layout, INLINE))
